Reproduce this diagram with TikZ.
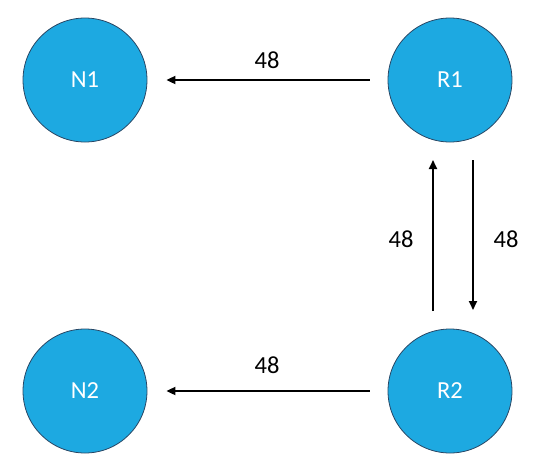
\documentclass[tikz,border=0pt]{standalone}
\usepackage{fontspec}
\setmainfont{Carlito}
\usetikzlibrary{arrows.meta}
\definecolor{nodeblue}{RGB}{29,169,225}
\definecolor{nodeedge}{RGB}{40,70,100}
\tikzset{
  netnode/.style={circle, fill=nodeblue, draw=nodeedge, line width=0.8pt, minimum size=124pt, inner sep=0pt, text=white, font=\fontsize{24.5}{28}\selectfont},
  flow/.style={line width=1.8pt, -{Triangle[length=9pt,width=8pt]}},
  lbl/.style={font=\fontsize{24.5}{28}\selectfont, inner sep=0pt}
}
\begin{document}
\begin{tikzpicture}[x=1pt,y=-1pt]
\useasboundingbox (0,0) rectangle (549,475);
\node[netnode] (N1) at (85,80) {N1};
\node[netnode] (R1) at (450,80) {R1};
\node[netnode] (N2) at (85,391) {N2};
\node[netnode] (R2) at (450,391) {R2};
\coordinate (upS) at (433,311);
\coordinate (upE) at (433,160);
\coordinate (dnS) at (473,160);
\coordinate (dnE) at (473,310);
\draw[flow, shorten <=18pt, shorten >=19pt] (R1) -- (N1);
\draw[flow, shorten <=18pt, shorten >=19pt] (R2) -- (N2);
\draw[flow] (upS) -- (upE);
\draw[flow] (dnS) -- (dnE);
\node[lbl] (l1) at (267,60) {48};
\node[lbl] (l2) at (267,365) {48};
\node[lbl] (l3) at (401,239) {48};
\node[lbl] (l4) at (506,239) {48};
\end{tikzpicture}
\end{document}
